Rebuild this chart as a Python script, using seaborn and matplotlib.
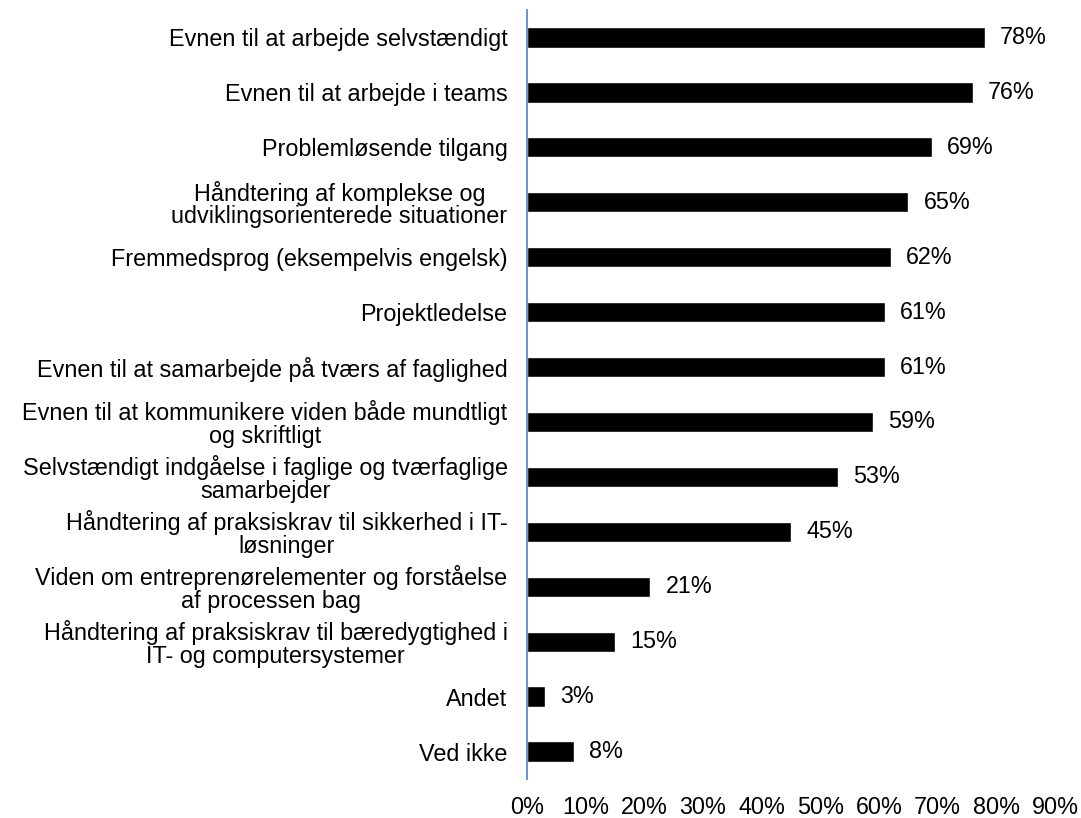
import matplotlib
matplotlib.use("Agg")
import matplotlib.pyplot as plt
import seaborn as sns
import pandas as pd

categories = [
    "Evnen til at arbejde selvstændigt",
    "Evnen til at arbejde i teams",
    "Problemløsende tilgang",
    "Håndtering af komplekse og\nudviklingsorienterede situationer",
    "Fremmedsprog (eksempelvis engelsk)",
    "Projektledelse",
    "Evnen til at samarbejde på tværs af faglighed",
    "Evnen til at kommunikere viden både mundtligt\nog skriftligt",
    "Selvstændigt indgåelse i faglige og tværfaglige\nsamarbejder",
    "Håndtering af praksiskrav til sikkerhed i IT-\nløsninger",
    "Viden om entreprenørelementer og forståelse\naf processen bag",
    "Håndtering af praksiskrav til bæredygtighed i\nIT- og computersystemer",
    "Andet",
    "Ved ikke",
]
values = [0.78, 0.76, 0.69, 0.65, 0.62, 0.61, 0.61, 0.59, 0.53, 0.45, 0.21, 0.15, 0.03, 0.08]
ticks = [0, 0.1, 0.2, 0.3, 0.4, 0.5, 0.6, 0.7, 0.8, 0.9]
tick_labels = ["0%", "10%", "20%", "30%", "40%", "50%", "60%", "70%", "80%", "90%"]

sns.set_style("white")
plt.rcParams["font.family"] = ["Liberation Sans", "DejaVu Sans"]

FS = 16.8

df = pd.DataFrame({"cat": categories, "val": values})

fig = plt.figure(figsize=(10.81, 8.18), dpi=100)
ax = fig.add_axes([527 / 1081, 1 - 779 / 818, (1055 - 527) / 1081, (779 - 10) / 818])
sns.barplot(data=df, x="val", y="cat", orient="h", color="black", width=0.37,
            saturation=1, ax=ax, order=categories)
ax.set_xlim(0, 0.9)
ax.set_ylim(13.5, -0.5)
ax.set_xlabel("")
ax.set_ylabel("")
for s in ["top", "right", "bottom"]:
    ax.spines[s].set_visible(False)
ax.spines["left"].set_color("#5B8BC9")
ax.spines["left"].set_linewidth(1.3)
ax.set_xticks(ticks)
ax.set_xticklabels(tick_labels, fontsize=FS, color="black")
ax.tick_params(axis="x", length=0, pad=12)
ax.tick_params(axis="y", length=0, pad=14)
for lbl in ax.get_yticklabels():
    lbl.set_fontsize(FS)
    lbl.set_multialignment("center")
    lbl.set_linespacing(0.98)
    lbl.set_color("black")
for i, v in enumerate(values):
    ax.text(v + 0.026, i, f"{round(v*100)}%", va="center", ha="left", fontsize=FS, color="black")

fig.savefig("out.png", dpi=100)
